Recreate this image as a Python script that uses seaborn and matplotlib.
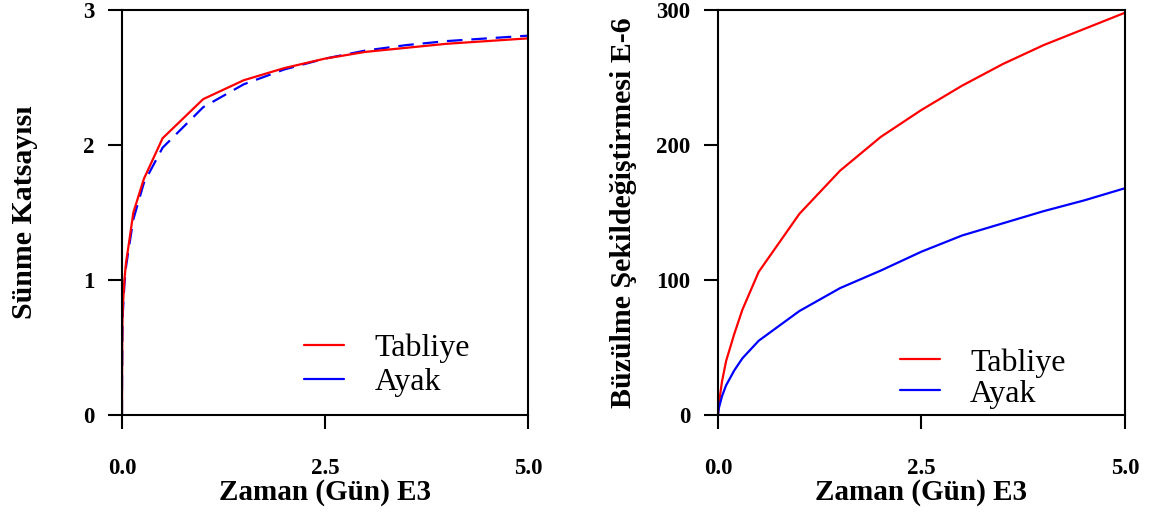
import matplotlib
matplotlib.use("Agg")
import matplotlib.pyplot as plt
from matplotlib.lines import Line2D
import seaborn as sns
import pandas as pd

# Creep coefficient vs time (days x 1000)
creep_t = [0, 0.001, 0.005, 0.01, 0.03, 0.05, 0.08, 0.14, 0.27, 0.5, 1.0, 1.5, 2.0, 2.5, 3.0, 3.5, 4.0, 4.5, 5.0]
creep_tabliye = [0, 0.30, 0.65, 0.80, 1.00, 1.13, 1.25, 1.50, 1.75, 2.05, 2.34, 2.48, 2.57, 2.64, 2.69, 2.72, 2.75, 2.77, 2.79]
creep_ayak = [0, 0.25, 0.60, 0.75, 0.97, 1.10, 1.22, 1.45, 1.72, 1.98, 2.28, 2.45, 2.56, 2.64, 2.70, 2.74, 2.77, 2.79, 2.81]

# Shrinkage strain (x1e-6) vs time (days x 1000)
shr_t = [0, 0.01, 0.05, 0.1, 0.2, 0.3, 0.5, 1.0, 1.5, 2.0, 2.5, 3.0, 3.5, 4.0, 4.5, 5.0]
shr_tabliye = [0, 8, 25, 40, 60, 78, 106, 149, 181, 206, 226, 244, 260, 274, 286, 298]
shr_ayak = [0, 5, 14, 22, 33, 42, 55, 77, 94, 107, 121, 133, 142, 151, 159, 168]

x_ticks = [0.0, 2.5, 5.0]
x_tick_labels = ["0.0", "2.5", "5.0"]
creep_ticks = [0, 1, 2, 3]
shr_ticks = [0, 100, 200, 300]
series_names = ["Tabliye", "Ayak"]

RED = "#ff0000"
BLUE = "#0000ff"

sns.set_theme(style="white")
plt.rcParams["font.family"] = ["Liberation Serif", "DejaVu Serif"]
plt.rcParams.update({"text.color": "black", "axes.labelcolor": "black",
                     "xtick.color": "black", "ytick.color": "black"})

fig = plt.figure(figsize=(11.53, 5.14), dpi=100)
ax1 = fig.add_axes([0.1058, 0.1926, 0.3521, 0.7879])
ax2 = fig.add_axes([0.6227, 0.1926, 0.3530, 0.7879])

creep_df = pd.DataFrame({"t": creep_t, "tabliye": creep_tabliye, "ayak": creep_ayak})
shr_df = pd.DataFrame({"t": shr_t, "tabliye": shr_tabliye, "ayak": shr_ayak})

sns.lineplot(data=creep_df, x="t", y="ayak", ax=ax1, color=BLUE, lw=1.6, legend=False)
ax1.lines[0].set_dashes([7, 4])
sns.lineplot(data=creep_df, x="t", y="tabliye", ax=ax1, color=RED, lw=1.6, legend=False)

sns.lineplot(data=shr_df, x="t", y="tabliye", ax=ax2, color=RED, lw=1.6, legend=False)
sns.lineplot(data=shr_df, x="t", y="ayak", ax=ax2, color=BLUE, lw=1.6, legend=False)

def style_axes(ax, yticks, ylabel, ypad):
    ax.set_xlim(0, 5.0)
    ax.set_ylim(yticks[0], yticks[-1])
    ax.set_xticks(x_ticks)
    ax.set_xticklabels(x_tick_labels)
    ax.set_yticks(yticks)
    ax.set_yticklabels([str(v) for v in yticks])
    for s in ax.spines.values():
        s.set_visible(True)
        s.set_color("black")
        s.set_linewidth(1.5)
    ax.tick_params(axis="x", direction="out", length=10, width=1.5, pad=21,
                   labelsize=16.5, bottom=True, top=False)
    ax.tick_params(axis="y", direction="out", length=10, width=1.5, pad=10,
                   labelsize=16.5, left=True, right=False)
    for lab in ax.get_xticklabels() + ax.get_yticklabels():
        lab.set_fontweight("bold")
    ax.set_xlabel("Zaman (Gün) E3", fontsize=21, fontweight="bold", labelpad=0)
    ax.set_ylabel(ylabel, fontsize=21.5, fontweight="bold", labelpad=ypad)
    ax.grid(False)

style_axes(ax1, creep_ticks, "Sünme Katsayısı", 32)
style_axes(ax2, shr_ticks, "Büzülme Şekildeğiştirmesi E-6", 14)

handles = [Line2D([], [], color=RED, lw=1.6), Line2D([], [], color=BLUE, lw=1.6)]
ax1.legend(handles, series_names, loc="lower left", bbox_to_anchor=(0.378, -0.027),
           frameon=False, fontsize=23, handlelength=1.25, handletextpad=0.95,
           labelspacing=0.15)
ax2.legend(handles, series_names, loc="lower left", bbox_to_anchor=(0.376, -0.055),
           frameon=False, fontsize=23, handlelength=1.25, handletextpad=0.95,
           labelspacing=0.05)

fig.savefig("out.png", dpi=100, facecolor="white")
